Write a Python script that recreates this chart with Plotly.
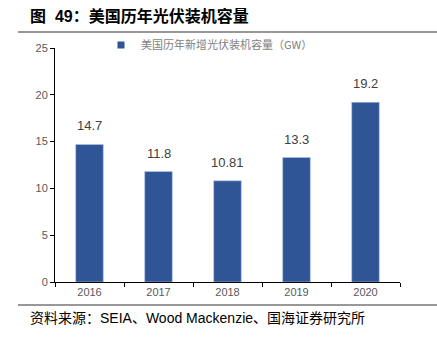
import plotly.graph_objects as go

years = ["2016", "2017", "2018", "2019", "2020"]
values = [14.7, 11.8, 10.81, 13.3, 19.2]
labels = ["14.7", "11.8", "10.81", "13.3", "19.2"]
series_name = "美国历年新增光伏装机容量（GW）"
title = "图  49：美国历年光伏装机容量"
source = "资料来源：SEIA、Wood Mackenzie、国海证券研究所"

W, H = 437, 337
L, R, T, B = 55, 37, 48, 55
BAR_COLOR = "#2F5597"

fig = go.Figure()
fig.add_trace(go.Bar(
    x=years, y=values, name=series_name, showlegend=False,
    marker=dict(color=BAR_COLOR, line=dict(color="#B4C7E7", width=0.6)),
))
# legend entry with a small square swatch
fig.add_trace(go.Scatter(
    x=[None], y=[None], mode="markers", name=series_name,
    marker=dict(symbol="square", size=7, color=BAR_COLOR),
))

pw = W - L - R
ph = H - T - B

def px_x(x):
    return (x - L) / pw

def px_y(y):
    return (H - B - y) / ph

annotations = [
    dict(x=i, y=v, text=lab, xref="x", yref="y", yanchor="bottom", yshift=9,
         showarrow=False, font=dict(size=13, color="#404040", family="Liberation Sans, Arial"))
    for i, (v, lab) in enumerate(zip(values, labels))
]
annotations += [
    dict(text="<b>" + title + "</b>", xref="paper", yref="paper",
         x=px_x(28), y=px_y(16), xanchor="left", yanchor="middle",
         showarrow=False, font=dict(size=16, color="black",
                                    family="Liberation Sans, Noto Sans CJK SC")),
    dict(text=source, xref="paper", yref="paper",
         x=px_x(28), y=px_y(318), xanchor="left", yanchor="middle",
         showarrow=False, font=dict(size=14, color="black",
                                    family="Liberation Sans, Noto Sans CJK SC")),
]

fig.update_layout(
    width=W, height=H,
    margin=dict(l=L, r=R, t=T, b=B, pad=0),
    plot_bgcolor="white", paper_bgcolor="white",
    bargap=0.6,
    showlegend=True,
    legend=dict(x=px_x(101), y=px_y(45), xanchor="left", yanchor="middle",
                font=dict(size=11, color="#7F7F7F", family="Noto Sans CJK SC"),
                bgcolor="rgba(0,0,0,0)", itemwidth=30),
    font=dict(family="Liberation Sans, Arial", color="#595959", size=11),
    xaxis=dict(type="category", range=[-0.5, len(years) - 0.5],
               showline=True, linecolor="black", linewidth=1,
               ticks="outside", tickcolor="black", ticklen=4,
               tickson="boundaries", showgrid=False,
               tickfont=dict(size=11, color="#595959")),
    yaxis=dict(range=[0, 25], dtick=5, showline=True, linecolor="black", linewidth=1,
               ticks="outside", tickcolor="black", ticklen=4, showgrid=False,
               zeroline=False, tickfont=dict(size=11, color="#595959")),
    shapes=[
        dict(type="line", xref="paper", yref="paper",
             x0=px_x(18), x1=px_x(437), y0=px_y(32), y1=px_y(32),
             line=dict(color="#333333", width=1.2)),
        dict(type="line", xref="paper", yref="paper",
             x0=px_x(18), x1=px_x(437), y0=px_y(305), y1=px_y(305),
             line=dict(color="#333333", width=1.2)),
    ],
    annotations=annotations,
)

fig.write_html("out.html")
